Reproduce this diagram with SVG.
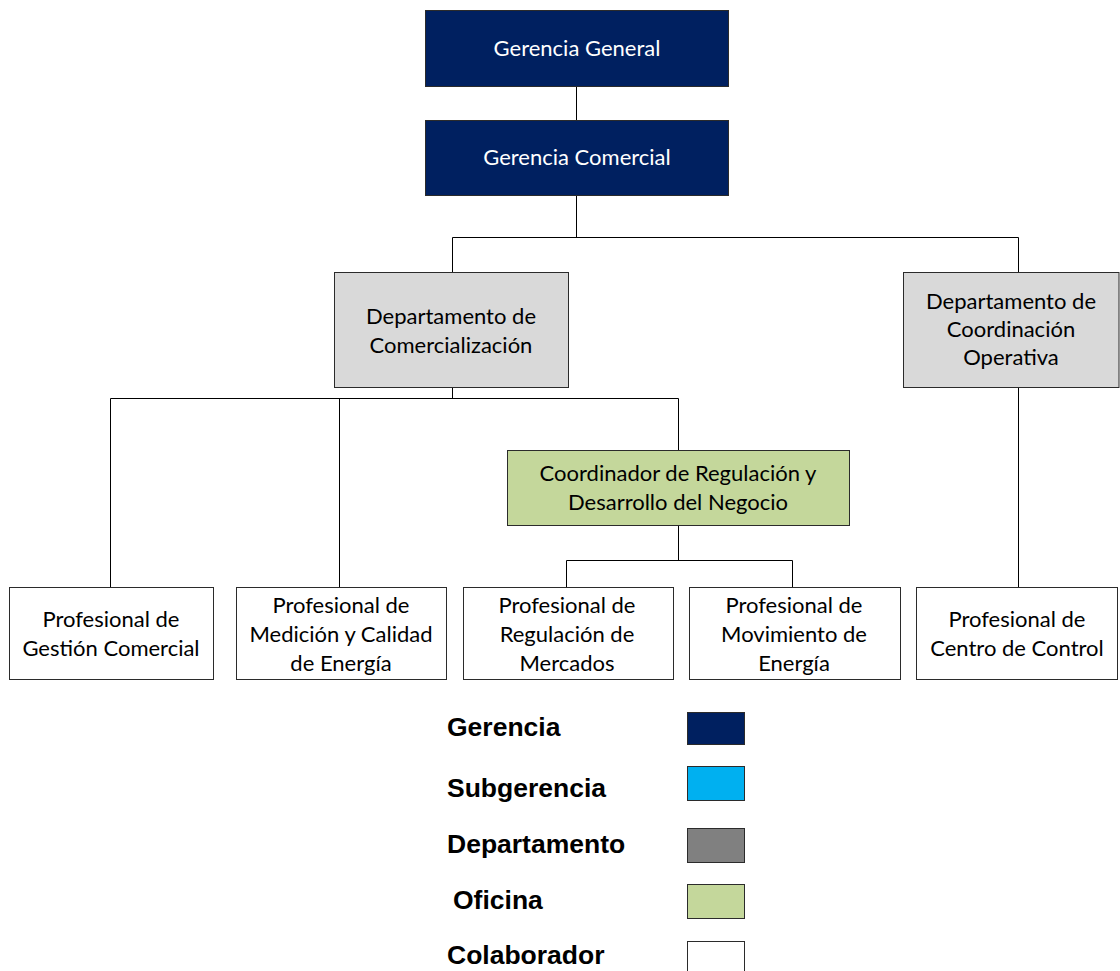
<svg xmlns="http://www.w3.org/2000/svg" width="1120" height="971" viewBox="0 0 1120 971">
<style>
.box{stroke:#2b2b2b;stroke-width:1}
.g{fill:#002060}
.d{fill:#d9d9d9}
.o{fill:#c4d79b}
.c{fill:#ffffff}
.t{font-family:Lato,"Open Sans",sans-serif;font-size:22px;text-anchor:middle;fill:#000}
.tw{fill:#ffffff}
.lg{font-family:"Liberation Sans",Arial,sans-serif;font-weight:bold;font-size:26.5px;fill:#000}
.ln{stroke:#000;stroke-width:1;fill:none}
</style>
<rect width="1120" height="971" fill="#fff"/>
<g id="connectors">
<path class="ln" d="M576.5,86 V120"/>
<path class="ln" d="M576.5,195 V237.5"/>
<path class="ln" d="M452.5,237.5 H1018.5"/>
<path class="ln" d="M452.5,237.5 V272"/>
<path class="ln" d="M1018.5,237.5 V272"/>
<path class="ln" d="M452.5,387 V398.5" stroke-width="1.5"/>
<path class="ln" d="M110.5,398.5 H678.5"/>
<path class="ln" d="M110.5,398.5 V587"/>
<path class="ln" d="M339.5,398.5 V587"/>
<path class="ln" d="M678.5,398.5 V450"/>
<path class="ln" d="M678.5,525 V560.5"/>
<path class="ln" d="M566.5,560.5 H792.5"/>
<path class="ln" d="M566.5,560.5 V587"/>
<path class="ln" d="M792.5,560.5 V587"/>
<path class="ln" d="M1018.5,387 V587"/>
</g>
<g id="gerencia-general">
<rect class="box g" x="425.5" y="10.5" width="303" height="76"/>
<text class="t tw" x="577" y="56">Gerencia General</text>
</g>
<g id="gerencia-comercial">
<rect class="box g" x="425.5" y="120.5" width="303" height="75"/>
<text class="t tw" x="577" y="165">Gerencia Comercial</text>
</g>
<g id="dep-comercializacion">
<rect class="box d" x="334.5" y="272.5" width="234" height="115"/>
<text class="t" x="451" y="324">Departamento de</text>
<text class="t" x="451" y="353">Comercialización</text>
</g>
<g id="dep-coordinacion">
<rect class="box d" x="903.5" y="272.5" width="215.5" height="115"/>
<text class="t" x="1011" y="309">Departamento de</text>
<text class="t" x="1011" y="337">Coordinación</text>
<text class="t" x="1011" y="365">Operativa</text>
</g>
<g id="coordinador">
<rect class="box o" x="507.5" y="450.5" width="342" height="75"/>
<text class="t" x="678" y="481">Coordinador de Regulación y</text>
<text class="t" x="678" y="510">Desarrollo del Negocio</text>
</g>
<g id="prof-gestion">
<rect class="box c" x="9.5" y="587.5" width="204" height="92"/>
<text class="t" x="111" y="627">Profesional de</text>
<text class="t" x="111" y="656">Gestión Comercial</text>
</g>
<g id="prof-medicion">
<rect class="box c" x="236.5" y="587.5" width="210" height="92"/>
<text class="t" x="341" y="613">Profesional de</text>
<text class="t" x="341" y="642">Medición y Calidad</text>
<text class="t" x="341" y="671">de Energía</text>
</g>
<g id="prof-regulacion">
<rect class="box c" x="463.5" y="587.5" width="210" height="92"/>
<text class="t" x="567" y="613">Profesional de</text>
<text class="t" x="567" y="642">Regulación de</text>
<text class="t" x="567" y="671">Mercados</text>
</g>
<g id="prof-movimiento">
<rect class="box c" x="689.5" y="587.5" width="211" height="92"/>
<text class="t" x="794" y="613">Profesional de</text>
<text class="t" x="794" y="642">Movimiento de</text>
<text class="t" x="794" y="671">Energía</text>
</g>
<g id="prof-centro">
<rect class="box c" x="916.5" y="587.5" width="201" height="92"/>
<text class="t" x="1017" y="627">Profesional de</text>
<text class="t" x="1017" y="656">Centro de Control</text>
</g>
<g id="legend">
<text class="lg" x="447" y="736">Gerencia</text>
<rect class="box" fill="#002060" x="687.5" y="712.5" width="57" height="32"/>
<text class="lg" x="447" y="797">Subgerencia</text>
<rect class="box" fill="#00b0f0" x="687.5" y="766.5" width="57" height="34"/>
<text class="lg" x="447" y="853">Departamento</text>
<rect class="box" fill="#808080" x="687.5" y="828.5" width="57" height="34"/>
<text class="lg" x="453" y="909">Oficina</text>
<rect class="box" fill="#c4d79b" x="687.5" y="884.5" width="57" height="34"/>
<text class="lg" x="447" y="964">Colaborador</text>
<rect class="box" fill="#ffffff" x="687.5" y="941.5" width="57" height="34"/>
</g>
</svg>
